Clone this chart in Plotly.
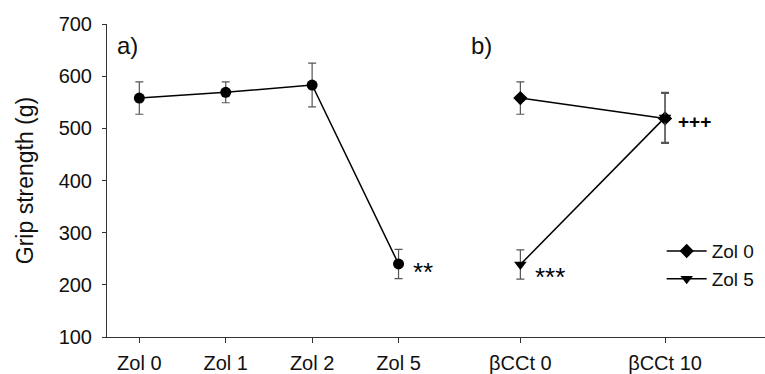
import plotly.graph_objects as go

# Panel a data
cats_a = ["Zol 0", "Zol 1", "Zol 2", "Zol 5"]
vals_a = [558, 569, 583, 240]
err_a = [31, 20, 42, 28]

# Panel b data
cats_b = ["βCCt 0", "βCCt 10"]
zol0_b = [558, 519]
zol0_err = [31, 48]
zol5_b = [239, 521]
zol5_err = [28, 48]

y_ticks = [100, 200, 300, 400, 500, 600, 700]

FONT = "Liberation Sans, Arial, sans-serif"
ERR_COL = "#555555"

fig = go.Figure()

fig.add_trace(go.Scatter(
    x=list(range(len(cats_a))), y=vals_a, mode="lines+markers",
    line=dict(color="black", width=1.5),
    marker=dict(symbol="circle", size=11, color="black"),
    error_y=dict(type="data", array=err_a, color=ERR_COL, thickness=1.2, width=4),
    showlegend=False, xaxis="x", yaxis="y"))

fig.add_trace(go.Scatter(
    x=list(range(len(cats_b))), y=zol0_b, mode="lines+markers", name="Zol 0",
    line=dict(color="black", width=1.5),
    marker=dict(symbol="diamond", size=11, color="black"),
    error_y=dict(type="data", array=zol0_err, color=ERR_COL, thickness=1.2, width=4),
    xaxis="x2", yaxis="y"))

fig.add_trace(go.Scatter(
    x=list(range(len(cats_b))), y=zol5_b, mode="lines+markers", name="Zol 5",
    line=dict(color="black", width=1.5),
    marker=dict(symbol="triangle-down", size=11, color="black"),
    error_y=dict(type="data", array=zol5_err, color=ERR_COL, thickness=1.2, width=4),
    xaxis="x2", yaxis="y"))

split = 0.535
tickfont = dict(family=FONT, size=20, color="#111111")
axis_common = dict(showgrid=False, zeroline=False, showline=True, linecolor="#333333",
                   linewidth=1, ticks="outside", tickcolor="#333333", tickfont=tickfont)

fig.update_layout(
    width=765, height=374,
    margin=dict(l=107, r=0, t=24, b=37, autoexpand=False),
    paper_bgcolor="white", plot_bgcolor="white",
    font=dict(family=FONT, color="black"),
    xaxis=dict(domain=[0, split], range=[-0.374, 3.70], ticklen=5, ticklabelstandoff=3,
               tickvals=list(range(len(cats_a))), ticktext=cats_a, **axis_common),
    xaxis2=dict(domain=[split, 1], range=[-0.424, 1.691], anchor="y", ticklen=5,
                ticklabelstandoff=3,
                tickvals=list(range(len(cats_b))), ticktext=cats_b, **axis_common),
    yaxis=dict(range=[100, 700], tickvals=y_ticks, ticklen=4, ticklabelstandoff=6,
               **axis_common,
               title=dict(text="Grip strength (g)", font=dict(family=FONT, size=23, color="#111111"),
                          standoff=18)),
    legend=dict(x=0.843, y=0.335, xanchor="left", yanchor="top",
                bgcolor="rgba(0,0,0,0)", font=dict(family=FONT, size=19, color="#111111"),
                tracegroupgap=0, itemwidth=40),
)

ann_font = dict(family=FONT, size=24, color="#111111")
fig.add_annotation(text="a)", xref="paper", yref="paper", x=0.012, y=0.93,
                   xanchor="left", yanchor="middle", showarrow=False, font=ann_font)
fig.add_annotation(text="b)", xref="paper", yref="paper", x=0.55, y=0.93,
                   xanchor="left", yanchor="middle", showarrow=False, font=ann_font)

star_font = dict(family=FONT, size=26, color="black")
fig.add_annotation(text="**", x=3, y=vals_a[3], xref="x", yref="y", xshift=12, yshift=-8,
                   xanchor="left", yanchor="middle", showarrow=False, font=star_font)
fig.add_annotation(text="***", x=0, y=zol5_b[0], xref="x2", yref="y", xshift=13, yshift=-13,
                   xanchor="left", yanchor="middle", showarrow=False, font=star_font)
fig.add_annotation(text="<b>+++</b>", x=1, y=zol0_b[1], xref="x2", yref="y", xshift=11, yshift=-3,
                   xanchor="left", yanchor="middle", showarrow=False,
                   font=dict(family=FONT, size=19, color="black"))

fig.write_html("out.html", config={"displayModeBar": False},
               post_script="document.body.style.margin='0';")
